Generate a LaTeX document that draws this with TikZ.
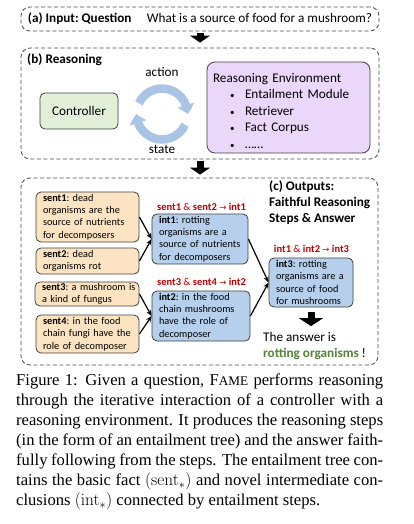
\documentclass[tikz,border=0pt]{standalone}
\usepackage[no-math]{fontspec}
\setmainfont{Liberation Serif}
\newfontfamily\calibri{Carlito}
\newfontfamily\symfont{DejaVu Sans}
\usetikzlibrary{arrows.meta,bending,positioning,fit}
\definecolor{sentfill}{RGB}{252,228,194}
\definecolor{intfill}{RGB}{182,207,236}
\definecolor{ctrlfill}{RGB}{226,240,217}
\definecolor{envfill}{RGB}{234,215,250}
\definecolor{cycblue}{RGB}{170,196,232}
\definecolor{steplbl}{RGB}{192,0,0}
\definecolor{answergreen}{RGB}{84,130,53}
\newcommand{\entarrow}{{\symfont\fontsize{8.5}{10}\selectfont →}}
\newcommand{\envitem}{\hspace*{17pt}\makebox[15pt][l]{\fontsize{9}{9}\selectfont •}}

\begin{document}
\begin{tikzpicture}[
    x=1pt, y=-1pt,
    inner sep=0pt,
    panel/.style={draw=black!70, dash pattern=on 4pt off 2.5pt,
        rounded corners=9pt, line width=0.8pt},
    body/.style={font=\calibri\frenchspacing\fontsize{13.2}{16}\selectfont},
    ptitle/.style={font=\calibri\frenchspacing\bfseries\fontsize{13.2}{16}\selectfont},
    sbox/.style={draw=black!75, fill=sentfill, rounded corners=5pt,
        line width=0.8pt, text width=89pt, inner xsep=7pt, align=left,
        font=\calibri\frenchspacing\fontsize{10.3}{12.3}\selectfont},
    ibox/.style={sbox, fill=intfill},
    lbl/.style={text=steplbl, font=\calibri\fontsize{10.5}{12}\selectfont},
    flow/.style={line width=7pt, -{Triangle[width=20pt,length=7pt]}},
    entail/.style={line width=1.2pt, -{Stealth[length=6pt,width=5pt]}},
    cycarrow/.style={cycblue, line width=8.5pt,
        -{Triangle[width=17pt,length=9pt,bend]}},
    ]
    \useasboundingbox (0,0) rectangle (414,524);

    % (a) input
    \node[panel, body, minimum width=358pt, minimum height=24pt] (pa) at (200,19)
        {\makebox[119pt][l]{\bfseries (a) Input: Question}What is a source of food for a mushroom?\hspace{6pt}};

    % (b) reasoning
    \node[panel, minimum width=358pt, minimum height=111pt] (pb) at (200,103.5) {};
    \node[ptitle, anchor=west] (tb) at (27,60) {(b) Reasoning};
    \node[body, draw=black!75, fill=ctrlfill, rounded corners=5pt, line width=0.8pt,
        minimum width=78pt, minimum height=36pt] (ctrl) at (79,111) {Controller};
    \node[body, draw=black!75, fill=envfill, rounded corners=8pt, line width=0.8pt,
        text width=151pt, inner xsep=6pt, minimum height=91pt, align=left,
        font=\calibri\fontsize{13.2}{16.5}\selectfont] (env) at (288.5,107.5)
        {\mbox{}\\[-1pt]Reasoning Environment\\
        \envitem Entailment Module\\
        \envitem Retriever\\
        \envitem Fact Corpus\\
        \envitem ……};
    \coordinate (cyc) at (162,114);
    \draw[cycarrow] (cyc) ++(-155:25.5) arc[start angle=-155, end angle=0, radius=25.5];
    \draw[cycarrow] (cyc) ++(25:25.5) arc[start angle=25, end angle=180, radius=25.5];
    \node[body] (act) at (162,72) {action};
    \node[body] (st) at (162,149) {state};

    % (c) outputs
    \node[panel, minimum width=357pt, minimum height=187pt] (pc) at (199.5,271.5) {};
    \node[ptitle, anchor=north west, align=left] (tc) at (269,181)
        {(c) Outputs:\\Faithful Reasoning\\Steps \& Answer};

    \node[sbox, minimum height=50pt] (s1) at (87.5,217)
        {\textbf{sent1}: dead\\\mbox{organisms are the}\\\mbox{source of nutrients}\\for decomposers};
    \node[sbox, minimum height=26pt] (s2) at (87.5,261)
        {\textbf{sent2}: dead\\organisms rot};
    \node[sbox, minimum height=24pt, text width=90pt] (s3) at (87,294)
        {\mbox{\textbf{sent3}: a mushroom is}\\a kind of fungus};
    \node[sbox, minimum height=38pt] (s4) at (87.5,334)
        {\textbf{sent4}: in the food\\\mbox{chain fungi have the}\\\mbox{role of decomposer}};

    \node[ibox, text width=82pt, minimum height=50pt] (i1) at (200,239)
        {\textbf{int1}: rotting\\organisms are a\\\mbox{source of nutrients}\\for decomposers};
    \node[ibox, text width=84pt, minimum height=50pt] (i2) at (201,316)
        {\textbf{int2}: in the food\\chain mushrooms\\have the role of\\decomposer};
    \node[ibox, text width=70pt, minimum height=49pt] (i3) at (311,282.5)
        {\textbf{int3}: rotting\\\mbox{organisms are a}\\source of food\\\mbox{for mushrooms}};

    \node[lbl] (l1) at (201.5,207) {\textbf{sent1} \& \textbf{sent2} \entarrow{} \textbf{int1}};
    \node[lbl] (l2) at (201.5,282) {\textbf{sent3} \& \textbf{sent4} \entarrow{} \textbf{int2}};
    \node[lbl] (l3) at (311.5,249) {\textbf{int1} \& \textbf{int2} \entarrow{} \textbf{int3}};

    \draw[entail] (s1.east) -- (i1.west);
    \draw[entail] (s2.east) -- (i1.west);
    \draw[entail] (s3.east) -- (i2.west);
    \draw[entail] (s4.east) -- (i2.west);
    \draw[entail] (i1.east) -- (i3.west);
    \draw[entail] (i2.east) -- (i3.west);

    \node[body, anchor=west, align=left] (ans) at (263,346)
        {The answer is\\\textcolor{answergreen}{\bfseries rotting organisms} !};

    % block arrows between the parts
    \draw[flow, shorten <=2pt, shorten >=5pt] (pa.south) -- (pb.north);
    \draw[flow, shorten <=2pt, shorten >=3pt] (pb.south) -- (pb.south |- pc.north);
    \draw[flow, -{Triangle[width=24pt,length=8pt]}, shorten <=5pt, shorten >=6pt]
        (i3.south) -- (i3.south |- ans.north);

    % caption
    \node[anchor=north west, text width=367pt, align=justify,
        font=\fontsize{16.6}{20}\selectfont] (cap) at (16,374)
        {Figure 1: Given a question, F{\fontsize{13.2}{20}\selectfont AME} performs reasoning\linebreak
        through the iterative interaction of a controller with a\linebreak
        reasoning environment. It produces the reasoning steps\linebreak
        (in the form of an entailment tree) and the answer faith-\linebreak
        fully following from the steps. The entailment tree con-\linebreak
        tains the basic fact $(\mathrm{sent}_*)$ and novel intermediate con-\linebreak
        clusions $(\mathrm{int}_*)$ connected by entailment steps.};
\end{tikzpicture}
\end{document}
